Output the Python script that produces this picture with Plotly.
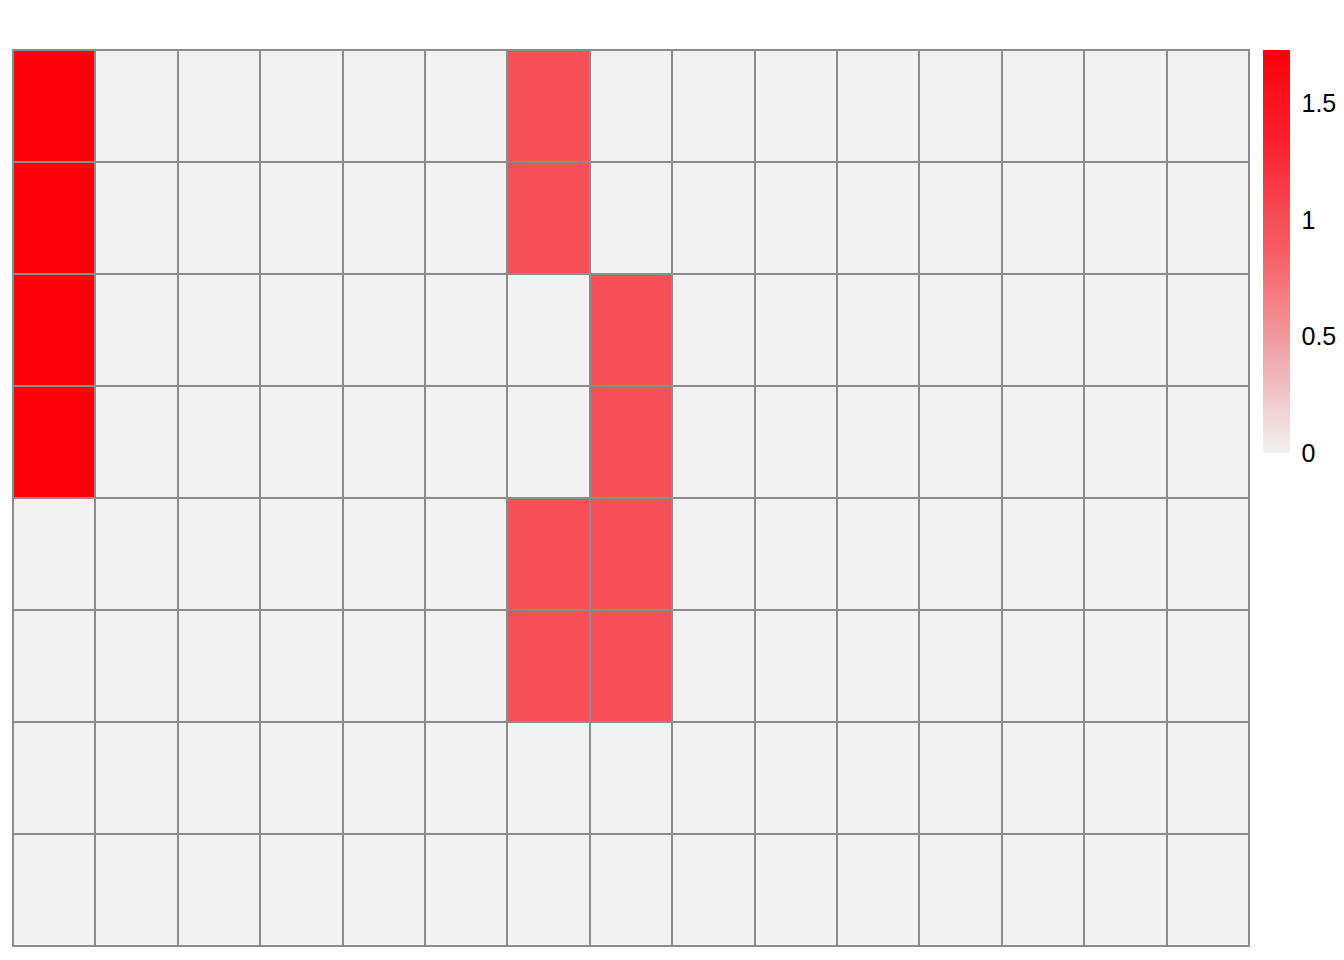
import plotly.graph_objects as go

row_labels = ["r1", "r2", "r3", "r4", "r5", "r6", "r7", "r8"]
col_labels = ["c1", "c2", "c3", "c4", "c5", "c6", "c7", "c8",
              "c9", "c10", "c11", "c12", "c13", "c14", "c15"]

z_values = [
    [1.73, 0, 0, 0, 0, 0, 1.0, 0, 0, 0, 0, 0, 0, 0, 0],
    [1.73, 0, 0, 0, 0, 0, 1.0, 0, 0, 0, 0, 0, 0, 0, 0],
    [1.73, 0, 0, 0, 0, 0, 0, 1.0, 0, 0, 0, 0, 0, 0, 0],
    [1.73, 0, 0, 0, 0, 0, 0, 1.0, 0, 0, 0, 0, 0, 0, 0],
    [0, 0, 0, 0, 0, 0, 1.0, 1.0, 0, 0, 0, 0, 0, 0, 0],
    [0, 0, 0, 0, 0, 0, 1.0, 1.0, 0, 0, 0, 0, 0, 0, 0],
    [0, 0, 0, 0, 0, 0, 0, 0, 0, 0, 0, 0, 0, 0, 0],
    [0, 0, 0, 0, 0, 0, 0, 0, 0, 0, 0, 0, 0, 0, 0],
]

zmax = 1.73
colorscale = [
    [0.0, "#f2f2f2"],
    [0.26, "#f0a1a5"],
    [0.51, "#f75b63"],
    [0.578, "#f54f57"],
    [0.76, "#fb2230"],
    [1.0, "#fb0008"],
]

fig = go.Figure(go.Heatmap(
    z=z_values,
    x=col_labels,
    y=row_labels,
    zmin=0,
    zmax=zmax,
    colorscale=colorscale,
    xgap=2,
    ygap=2,
    hoverinfo="skip",
    colorbar=dict(
        x=(1255 - 5) / 1236, xanchor="left", xref="paper",
        y=1, yanchor="top", yref="paper",
        len=403 / 896, lenmode="fraction",
        thickness=27, thicknessmode="pixels",
        xpad=0, ypad=0,
        outlinewidth=0,
        tickvals=[0, 0.5, 1, 1.5],
        ticktext=["0", "0.5", "1", "1.5"],
        ticks="outside", ticklen=7, tickcolor="rgba(0,0,0,0)",
        tickfont=dict(family="Liberation Sans, Arial", size=25, color="#000000"),
    ),
))

fig.update_layout(
    width=1344, height=960,
    margin=dict(l=5, r=103, t=42, b=22),
    paper_bgcolor="white",
    plot_bgcolor="#8c8c8c",
    xaxis=dict(showticklabels=False, showgrid=False, zeroline=False, ticks="",
               showline=True, linecolor="#8c8c8c", linewidth=1, mirror=True),
    yaxis=dict(showticklabels=False, showgrid=False, zeroline=False, ticks="",
               autorange="reversed",
               showline=True, linecolor="#8c8c8c", linewidth=1, mirror=True),
)

fig.write_html("out.html")
